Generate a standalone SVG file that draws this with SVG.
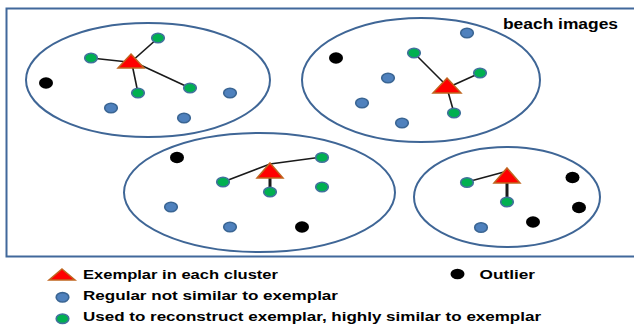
<svg xmlns="http://www.w3.org/2000/svg" width="634" height="327" viewBox="0 0 634 327">
<style>
.frame{fill:none;stroke:#41689b;stroke-width:2}
.clu{fill:none;stroke:#3f6696;stroke-width:2}
.ex{fill:#ff0000;stroke:#c0651f;stroke-width:1.5;stroke-linejoin:miter}
.g{fill:#00b050;stroke:#41719c;stroke-width:1.6}
.b{fill:#4f81bd;stroke:#3a6593;stroke-width:1.6}
.o{fill:#000}
.ln{fill:none;stroke:#1a1a1a;stroke-width:1.6}
.lt{fill:none;stroke:#1a1a1a;stroke-width:3}
text{font-family:"Liberation Sans",Arial,sans-serif;font-weight:bold;fill:#000}
</style>
<rect class="frame" x="6.5" y="8.5" width="640" height="248"/>
<text x="503" y="29" font-size="14" textLength="115" lengthAdjust="spacingAndGlyphs">beach images</text>

<g id="cluster1">
<ellipse class="clu" cx="148" cy="80" rx="122" ry="57"/>
</g>
<g id="cluster2">
<ellipse class="clu" cx="421" cy="80" rx="119" ry="62"/>
</g>
<g id="cluster3">
<ellipse class="clu" cx="259.5" cy="192.5" rx="135.5" ry="59.5"/>
</g>
<g id="cluster4">
<ellipse class="clu" cx="507" cy="197" rx="93" ry="50"/>
</g>

<g id="connectors">
<line class="ln" x1="158" y1="38" x2="131" y2="62"/>
<line class="ln" x1="91" y1="58" x2="128" y2="62"/>
<line class="ln" x1="138" y1="93" x2="132" y2="64"/>
<line class="ln" x1="190" y1="88" x2="134" y2="62"/>
<line class="ln" x1="414" y1="53" x2="447" y2="86"/>
<line class="ln" x1="480" y1="73" x2="449" y2="87"/>
<line class="ln" x1="454" y1="113" x2="447" y2="88"/>
<polyline class="ln" points="223,182 270,164 322,157"/>
<line class="lt" x1="270" y1="176" x2="270" y2="192"/>
<line class="ln" x1="467" y1="182" x2="504" y2="172"/>
<line class="lt" x1="507" y1="181" x2="507" y2="202"/>
</g>

<g id="nodes1">
<ellipse class="g" cx="158" cy="38" rx="6.3" ry="4.7"/>
<ellipse class="g" cx="91" cy="58" rx="6.3" ry="4.7"/>
<ellipse class="o" cx="46" cy="83" rx="7" ry="5.8"/>
<ellipse class="g" cx="138" cy="93" rx="6.3" ry="4.7"/>
<ellipse class="g" cx="190" cy="88" rx="6.3" ry="4.7"/>
<ellipse class="b" cx="230" cy="93" rx="6.3" ry="4.7"/>
<ellipse class="b" cx="111" cy="108" rx="6.3" ry="4.7"/>
<ellipse class="b" cx="184" cy="118" rx="6.3" ry="4.7"/>
<polygon class="ex" points="131,54 144,68 118,68"/>
</g>
<g id="nodes2">
<ellipse class="b" cx="467" cy="33" rx="6.3" ry="4.7"/>
<ellipse class="o" cx="336" cy="58" rx="7" ry="5.8"/>
<ellipse class="g" cx="414" cy="53" rx="6.3" ry="4.7"/>
<ellipse class="g" cx="480" cy="73" rx="6.3" ry="4.7"/>
<ellipse class="b" cx="388" cy="78" rx="6.3" ry="4.7"/>
<ellipse class="b" cx="362" cy="103" rx="6.3" ry="4.7"/>
<ellipse class="g" cx="454" cy="113" rx="6.3" ry="4.7"/>
<ellipse class="b" cx="402" cy="123" rx="6.3" ry="4.7"/>
<polygon class="ex" points="447,78 461,93 433,93"/>
</g>
<g id="nodes3">
<ellipse class="o" cx="177" cy="157.5" rx="7" ry="5.8"/>
<ellipse class="g" cx="322" cy="157.5" rx="6.3" ry="4.7"/>
<ellipse class="g" cx="223" cy="182" rx="6.3" ry="4.7"/>
<ellipse class="g" cx="270" cy="192" rx="6.3" ry="4.7"/>
<ellipse class="g" cx="322" cy="187" rx="6.3" ry="4.7"/>
<ellipse class="b" cx="171" cy="207" rx="6.3" ry="4.7"/>
<ellipse class="b" cx="230" cy="227" rx="6.3" ry="4.7"/>
<ellipse class="o" cx="302" cy="227" rx="7" ry="5.8"/>
<polygon class="ex" points="270,163 283,178 257,178"/>
</g>
<g id="nodes4">
<ellipse class="g" cx="467" cy="182.5" rx="6.3" ry="4.7"/>
<ellipse class="o" cx="572.5" cy="177.5" rx="7" ry="5.8"/>
<ellipse class="g" cx="507" cy="202" rx="6.3" ry="4.7"/>
<ellipse class="o" cx="579" cy="207.5" rx="7" ry="5.8"/>
<ellipse class="o" cx="533" cy="222" rx="7" ry="5.8"/>
<ellipse class="b" cx="481" cy="227.5" rx="6.3" ry="4.7"/>
<polygon class="ex" points="507,168 520,183 494,183"/>
</g>

<g id="legend">
<polygon class="ex" points="62,269 75,280 49,280"/>
<text x="83" y="279" font-size="12.5" textLength="195" lengthAdjust="spacingAndGlyphs">Exemplar in each cluster</text>
<ellipse class="o" cx="457.5" cy="274" rx="7" ry="5.2"/>
<text x="479.5" y="279" font-size="12.5" textLength="55.5" lengthAdjust="spacingAndGlyphs">Outlier</text>
<ellipse class="b" cx="62.5" cy="297.3" rx="6.3" ry="4.7"/>
<text x="83" y="300" font-size="12.5" textLength="255" lengthAdjust="spacingAndGlyphs">Regular not similar to exemplar</text>
<ellipse class="g" cx="62.5" cy="318.7" rx="6.3" ry="4.7"/>
<text x="83" y="321" font-size="12.5" textLength="458" lengthAdjust="spacingAndGlyphs">Used to reconstruct exemplar, highly similar to exemplar</text>
</g>
</svg>
